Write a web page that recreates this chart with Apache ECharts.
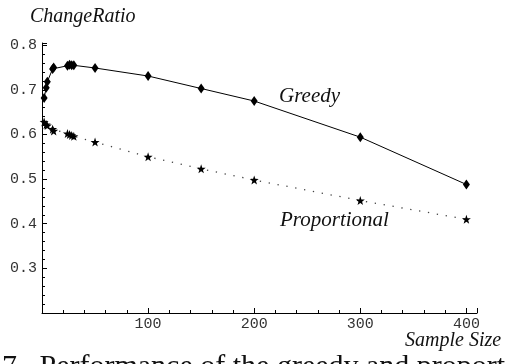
<!DOCTYPE html>
<html>
<head>
<meta charset="utf-8">
<script src="https://cdn.jsdelivr.net/npm/echarts@6/dist/echarts.min.js"></script>
<style>
  html, body { margin: 0; padding: 0; background: #fff; overflow: hidden; }
  #chart { width: 505px; height: 364px; }
</style>
</head>
<body>
<div id="chart"></div>
<script>
// Sample sizes and the change ratio reached by each allocation strategy
const sampleSizes  = [2, 4, 5, 10, 11, 24, 26, 28, 30, 50, 100, 150, 200, 300, 400];
const greedy       = [0.682, 0.705, 0.718, 0.747, 0.750, 0.754, 0.756, 0.755, 0.755, 0.749, 0.731, 0.703, 0.675, 0.594, 0.488];
const proportional = [0.628, 0.622, 0.620, 0.612, 0.608, 0.602, 0.600, 0.598, 0.596, 0.583, 0.550, 0.523, 0.498, 0.452, 0.410];
const xTicks = [100, 200, 300, 400];
const yTicks = [0.3, 0.4, 0.5, 0.6, 0.7, 0.8];

const pairs = (xs, ys) => xs.map((x, i) => [x, ys[i]]);

const starPath = 'path://M0,-10 L2.35,-3.24 L9.51,-3.09 L3.8,1.24 L5.88,8.09 L0,4 L-5.88,8.09 L-3.8,1.24 L-9.51,-3.09 L-2.35,-3.24 Z';
const monoFont = 'Liberation Mono';
const serifFont = 'Liberation Serif';

const chart = echarts.init(document.getElementById('chart'), null, { renderer: 'canvas' });
chart.setOption({
  animation: false,
  backgroundColor: '#fff',
  grid: { left: 42, right: 28, top: 43, bottom: 51, containLabel: false },
  xAxis: {
    type: 'value', min: 0, max: 410, interval: 100,
    axisLine: { show: true, lineStyle: { color: '#000', width: 1 } },
    axisTick: { show: true, inside: true, length: 5, lineStyle: { color: '#000' } },
    minorTick: { show: true, splitNumber: 5, length: 3, lineStyle: { color: '#000' } },
    splitLine: { show: false },
    axisLabel: {
      color: '#333', fontFamily: monoFont, fontSize: 15, margin: 4,
      formatter: v => (xTicks.indexOf(v) >= 0 ? String(v) : '')
    }
  },
  yAxis: {
    type: 'value', min: 0.2, max: 0.805, interval: 0.1,
    axisLine: { show: true, lineStyle: { color: '#000', width: 1 } },
    axisTick: { show: true, inside: true, length: 5, lineStyle: { color: '#000' } },
    minorTick: { show: true, splitNumber: 5, length: 3, lineStyle: { color: '#000' } },
    splitLine: { show: false },
    axisLabel: {
      color: '#333', fontFamily: monoFont, fontSize: 15, margin: 5,
      formatter: v => {
        const r = Math.round(v * 10) / 10;
        return (Math.abs(v - r) < 1e-6 && yTicks.indexOf(r) >= 0) ? r.toFixed(1) : '';
      }
    }
  },
  series: [
    {
      name: 'Greedy', type: 'line', data: pairs(sampleSizes, greedy),
      symbol: 'diamond', symbolSize: [7, 10],
      itemStyle: { color: '#000' },
      lineStyle: { color: '#000', width: 1 }
    },
    {
      name: 'Proportional', type: 'line', data: pairs(sampleSizes, proportional),
      symbol: starPath, symbolSize: 9,
      itemStyle: { color: '#000' },
      lineStyle: { color: '#444', width: 1.3, type: [1.3, 7.7] }
    }
  ],
  graphic: [
    { type: 'text', left: 30, top: 7,
      style: { text: 'ChangeRatio', font: 'italic 20px ' + serifFont, fill: '#111' } },
    { type: 'text', left: 279, top: 86,
      style: { text: 'Greedy', font: 'italic 21px ' + serifFont, fill: '#111' } },
    { type: 'text', left: 280, top: 210,
      style: { text: 'Proportional', font: 'italic 21px ' + serifFont, fill: '#111' } },
    { type: 'text', left: 2, top: 352,
      style: { text: '7.  Performance of the greedy and proportional', font: '30px ' + serifFont, fill: '#111' } },
    { type: 'text', left: 405, top: 331,
      style: { text: 'Sample Size', font: 'italic 20px ' + serifFont, fill: '#111' } }
  ]
});
</script>
</body>
</html>
